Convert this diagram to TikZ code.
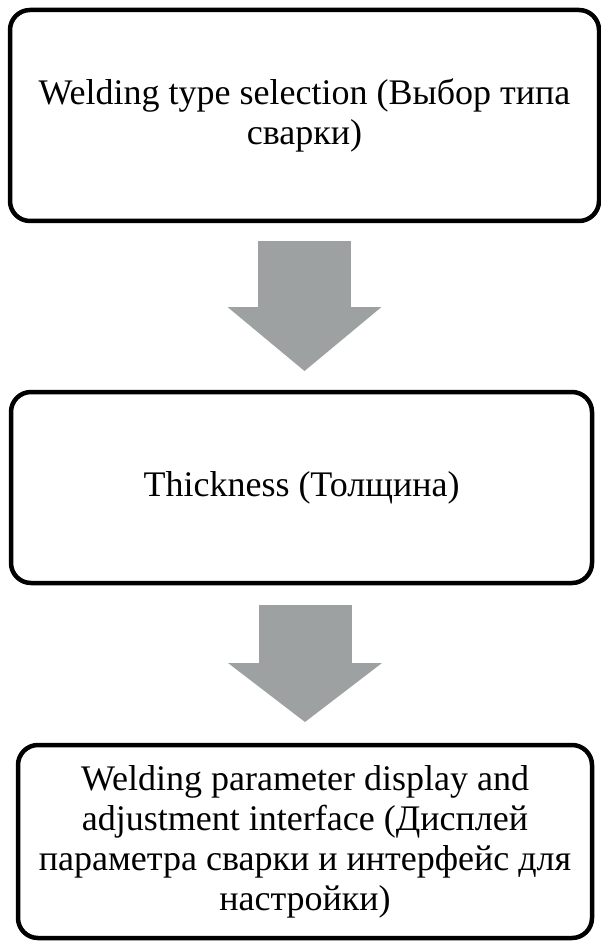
\documentclass[tikz,border=0pt]{standalone}
\usepackage{fontspec}
\setmainfont{Liberation Serif}
\usetikzlibrary{arrows.meta}
\definecolor{flowgray}{RGB}{158,161,162}

\begin{document}
\begin{tikzpicture}[x=1pt, y=-1pt,
    box/.style={draw, rectangle, rounded corners=20pt, line width=4.5pt, outer sep=0pt, inner sep=0pt, align=center, font=\fontsize{36pt}{40pt}\selectfont},
    flow/.style={flowgray, line width=93pt, -{Triangle[width=154pt, length=#1, line width=0pt]}}]
    \useasboundingbox (0,0) rectangle (600,941);

    \node[box, minimum width=589pt, minimum height=211pt] (A) at (304.5,115.5) {Welding type selection (Выбор типа\\сварки)};
    \node[box, minimum width=581pt, minimum height=191pt] (B) at (301.5,487.5) {Thickness (Толщина)};
    \node[box, minimum width=574pt, minimum height=193pt] (C) at (305,841.5) {Welding parameter display and\\adjustment interface (Дисплей\\параметра сварки и интерфейс для\\настройки)};

    \draw[flow=64pt, shorten <=20pt, shorten >=21pt] (A.south) -- (A.south |- B.north);
    \draw[flow=59pt, shorten <=22pt, shorten >=23pt] (C.north |- B.south) -- (C.north);
\end{tikzpicture}
\end{document}
